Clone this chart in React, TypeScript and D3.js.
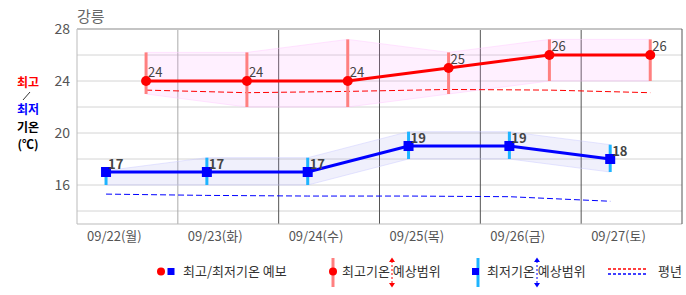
import React from "react";
import * as d3 from "d3";

const days = ["09/22(월)", "09/23(화)", "09/24(수)", "09/25(목)", "09/26(금)", "09/27(토)"];
const highTemp = [24, 24, 24, 25, 26, 26];
const lowTemp = [17, 17, 17, 19, 19, 18];
const highRangeTop = [26.2, 26.2, 27.2, 26.2, 27.2, 27.2];
const highRangeBottom = [23, 22, 22, 23, 24, 24];
const lowRangeTop = [17.1, 18.1, 18.1, 20.1, 20.1, 19.1];
const lowRangeBottom = [16, 16, 16, 18, 18, 17];
const highNormal = [23.3, 23.1, 23.2, 23.35, 23.3, 23.1];
const lowNormal = [15.3, 15.2, 15.15, 15.15, 15.1, 14.75];
const gridValues = [14, 16, 18, 20, 22, 24, 26];
const tickValues = [16, 20, 24, 28];

const W = 686, H = 295;
const L = 77, R = 682, T = 29, B = 224;
const FONT = "'Noto Sans CJK KR', 'Noto Sans', sans-serif";

export default function App() {
  const x = d3.scaleBand<string>().domain(days).range([L, R]).padding(0);
  const bw = x.bandwidth();
  const y = d3.scaleLinear().domain([13, 28]).range([B, T]);
  const xr = (i: number) => (x(days[i]) as number) + bw * 0.685;
  const xb = (i: number) => (x(days[i]) as number) + bw * 0.288;
  const idx = days.map((_, i) => i);

  const highLine = d3.line<number>().x((i) => xr(i)).y((i) => y(highTemp[i]))(idx) as string;
  const lowLine = d3.line<number>().x((i) => xb(i)).y((i) => y(lowTemp[i]))(idx) as string;
  const highArea = d3.area<number>().x((i) => xr(i)).y0((i) => y(highRangeBottom[i])).y1((i) => y(highRangeTop[i]))(idx) as string;
  const lowArea = d3.area<number>().x((i) => xb(i)).y0((i) => y(lowRangeBottom[i])).y1((i) => y(lowRangeTop[i]))(idx) as string;
  const highNorm = d3.line<number>().x((i) => xr(i)).y((i) => y(highNormal[i]))(idx) as string;
  const lowNorm = d3.line<number>().x((i) => xb(i)).y((i) => y(lowNormal[i]))(idx) as string;

  return (
    <svg width={W} height={H} style={{ position: "absolute", left: 0, top: 0, background: "#fff" }} fontFamily={FONT}>
      <rect x={0} y={0} width={W} height={H} fill="#fff" />
      {/* title */}
      <text x={77} y={22} fontSize={15} fill="#666">강릉</text>
      {/* left label */}
      <g fontSize={12} fontWeight="bold" textAnchor="middle">
        <text x={28} y={87} fill="#ff0000">최고</text>
        <line x1={23} y1={100} x2={30} y2={92} stroke="#000" strokeWidth={0.8} />
        <text x={28} y={114} fill="#0000ff">최저</text>
        <text x={28} y={132} fill="#000">기온</text>
        <text x={28} y={149} fill="#000">(℃)</text>
      </g>
      {/* grid */}
      {gridValues.map((v) => (
        <line key={"h" + v} x1={L} x2={R} y1={y(v)} y2={y(v)} stroke="#d4d4d4" strokeWidth={1} />
      ))}
      {days.slice(1).map((d, i) => (
        <line key={"v" + d} x1={x(d) as number} x2={x(d) as number} y1={T} y2={B}
          stroke={i === 0 ? "#aaaaaa" : "#555555"} strokeWidth={1} />
      ))}
      {/* border */}
      <line x1={L} x2={L} y1={T} y2={B} stroke="#bbbbbb" />
      <line x1={L} x2={R} y1={B} y2={B} stroke="#bbbbbb" />
      <line x1={L} x2={R} y1={T} y2={T} stroke="#c4c4c4" strokeWidth={2} />
      <line x1={R} x2={R} y1={T} y2={B} stroke="#555555" />
      {/* y tick labels */}
      {tickValues.map((v) => (
        <text key={"t" + v} x={70} y={y(v) + 5} fontSize={14} fill="#555" textAnchor="end">{v}</text>
      ))}
      {/* x labels */}
      {days.map((d) => (
        <text key={"x" + d} x={(x(d) as number) + 10} y={241} fontSize={13} fill="#555">{d}</text>
      ))}
      {/* range areas */}
      <path d={highArea} fill="#ff99ff" fillOpacity={0.15} stroke="#ffccff" strokeOpacity={0.5} />
      <path d={lowArea} fill="#9999ee" fillOpacity={0.15} stroke="#ccccff" strokeOpacity={0.5} />
      {/* normals */}
      <path d={highNorm} fill="none" stroke="#ff0000" strokeWidth={1} strokeDasharray="6,3" />
      <path d={lowNorm} fill="none" stroke="#0000ff" strokeWidth={1} strokeDasharray="6,3" />
      {/* range bars */}
      {idx.map((i) => (
        <line key={"hr" + i} x1={xr(i)} x2={xr(i)} y1={y(highRangeTop[i])} y2={y(highRangeBottom[i])} stroke="#ff8080" strokeWidth={3} />
      ))}
      {idx.map((i) => (
        <line key={"lr" + i} x1={xb(i)} x2={xb(i)} y1={y(lowRangeTop[i])} y2={y(lowRangeBottom[i])} stroke="#1eb4ff" strokeWidth={3} />
      ))}
      {/* lines */}
      <path d={highLine} fill="none" stroke="#ff0000" strokeWidth={3} />
      <path d={lowLine} fill="none" stroke="#0000ff" strokeWidth={3} />
      {idx.map((i) => (
        <circle key={"hc" + i} cx={xr(i)} cy={y(highTemp[i])} r={5} fill="#ff0000" />
      ))}
      {idx.map((i) => (
        <rect key={"ls" + i} x={xb(i) - 5} y={y(lowTemp[i]) - 5} width={10} height={10} fill="#0000ff" />
      ))}
      {/* value labels */}
      {idx.map((i) => (
        <text key={"hl" + i} x={xr(i) + 2} y={y(highTemp[i]) - 4} fontSize={13} fill="#444">{highTemp[i]}</text>
      ))}
      {idx.map((i) => (
        <text key={"ll" + i} x={xb(i) + 2} y={y(lowTemp[i]) - 3} fontSize={13} fontWeight="bold" fill="#444">{lowTemp[i]}</text>
      ))}
      {/* legend */}
      <g fontSize={13} fill="#333">
        <circle cx={161} cy={271.5} r={4} fill="#ff0000" />
        <rect x={167.5} y={268} width={7} height={7} fill="#0000ff" />
        <text x={183} y={276}>최고/최저기온 예보</text>

        <line x1={333} x2={333} y1={258} y2={287} stroke="#ff8080" strokeWidth={3} />
        <circle cx={333} cy={271.5} r={4} fill="#ff0000" />
        <text x={342} y={276}>최고기온 예상범위</text>
        <line x1={392} x2={392} y1={261} y2={284} stroke="#ff0000" strokeWidth={1} strokeDasharray="2,2" />
        <path d="M389,262 L392,257.5 L395,262 Z" fill="#ff0000" />
        <path d="M389,283 L392,287.5 L395,283 Z" fill="#ff0000" />

        <line x1={478} x2={478} y1={258} y2={287} stroke="#1eb4ff" strokeWidth={3} />
        <rect x={472} y={268} width={7} height={7} fill="#0000ff" />
        <text x={487} y={276}>최저기온 예상범위</text>
        <line x1={537} x2={537} y1={261} y2={284} stroke="#0000ff" strokeWidth={1} strokeDasharray="2,2" />
        <path d="M534,262 L537,257.5 L540,262 Z" fill="#0000ff" />
        <path d="M534,283 L537,287.5 L540,283 Z" fill="#0000ff" />

        <line x1={608} x2={647} y1={269} y2={269} stroke="#ff0000" strokeWidth={1.5} strokeDasharray="3,2" />
        <line x1={608} x2={647} y1={274} y2={274} stroke="#0000ff" strokeWidth={1.5} strokeDasharray="3,2" />
        <text x={658} y={276}>평년</text>
      </g>
    </svg>
  );
}
